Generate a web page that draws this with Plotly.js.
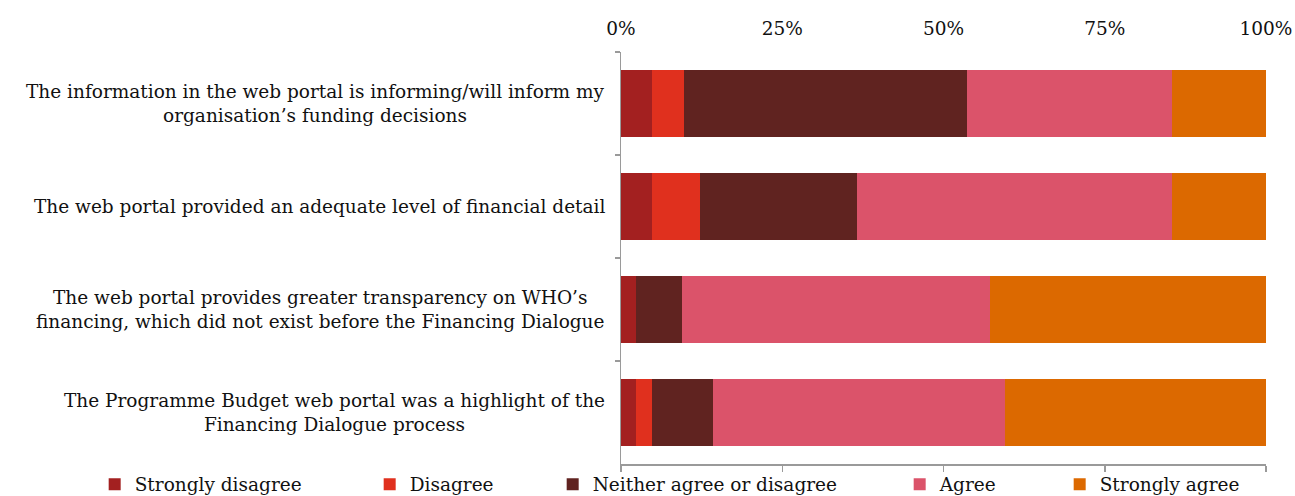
<!DOCTYPE html>
<html>
<head>
<meta charset="utf-8">
<script src="https://cdn.plot.ly/plotly-3.0.1.min.js"></script>
<style>html,body{margin:0;padding:0;background:#fff;}#chart{width:1295px;height:496px;}</style>
</head>
<body>
<div id="chart"></div>
<script>
// ---- data ----
const categories = [
  "The information in the web portal is informing/will inform my<br>organisation’s funding decisions",
  "The web portal provided an adequate level of financial detail",
  "The web portal provides greater transparency on WHO’s<br>financing, which did not exist before the Financing Dialogue",
  "The Programme Budget web portal was a highlight of the<br>Financing Dialogue process"
];
const seriesNames = ["Strongly disagree", "Disagree", "Neither agree or disagree", "Agree", "Strongly agree"];
const stronglyDisagree = [0.0488, 0.0488, 0.0238, 0.0238];
const disagree         = [0.0488, 0.0732, 0.0000, 0.0238];
const neither          = [0.4390, 0.2439, 0.0714, 0.0952];
const agree            = [0.3171, 0.4878, 0.4762, 0.4524];
const stronglyAgree    = [0.1463, 0.1463, 0.4286, 0.4048];
const xTickVals = [0, 0.25, 0.5, 0.75, 1];
const xTickText = ["0%", "25%", "50%", "75%", "100%"];

// ---- styles ----
const colors = ["#A32020", "#E0301E", "#602320", "#DB536A", "#DC6900"];
const legendWidths = [230, 138, 302, 115, 170];
const FONT = "DejaVu Serif";
const FS = 18.5;

const seriesValues = [stronglyDisagree, disagree, neither, agree, stronglyAgree];
const traces = seriesValues.map((vals, i) => ({
  type: "bar",
  orientation: "h",
  name: seriesNames[i],
  y: categories,
  x: vals,
  xaxis: "x",
  marker: {color: colors[i], line: {width: 0}},
  legendwidth: legendWidths[i],
  hoverinfo: "x+name"
}));
// empty helper trace so the top (label) axis is drawn
traces.push({type: "scatter", mode: "none", x: [], y: [], xaxis: "x2", yaxis: "y",
  showlegend: false, hoverinfo: "skip"});

const annotations = categories.map(c => ({
  xref: "paper", yref: "y", x: 0, y: c,
  xanchor: "right", yanchor: "middle", xshift: -14,
  text: c, showarrow: false, align: "center",
  font: {family: FONT, size: FS, color: "#111"}
}));

const layout = {
  width: 1295, height: 496,
  margin: {l: 621, r: 29, t: 52, b: 32, autoexpand: false},
  paper_bgcolor: "#fff", plot_bgcolor: "#fff",
  barmode: "stack", bargap: 0.34,
  font: {family: FONT, size: FS, color: "#111"},
  xaxis: {
    side: "bottom", range: [0, 1], tickvals: xTickVals,
    showticklabels: false, showgrid: false, zeroline: false,
    showline: true, linecolor: "#9a9a9a", linewidth: 1.5,
    ticks: "outside", ticklen: 6, tickcolor: "#9a9a9a", tickwidth: 1.5
  },
  xaxis2: {
    overlaying: "x", anchor: "y", side: "top", range: [0, 1],
    tickvals: xTickVals, ticktext: xTickText,
    showgrid: false, zeroline: false, showline: false, ticks: "",
    ticklabelstandoff: 12,
    tickfont: {family: FONT, size: FS, color: "#111"}
  },
  yaxis: {
    type: "category", autorange: "reversed", showticklabels: false,
    tickson: "boundaries", ticks: "outside", ticklen: 5, tickcolor: "#9a9a9a", tickwidth: 1.5,
    showline: true, linecolor: "#9a9a9a", linewidth: 1.5, showgrid: false, zeroline: false
  },
  showlegend: true,
  legend: {
    orientation: "h", x: -0.816, xanchor: "left", y: -0.004, yanchor: "top",
    traceorder: "normal", font: {family: FONT, size: FS, color: "#111"},
    itemwidth: 30, bgcolor: "rgba(0,0,0,0)", tracegroupgap: 0
  },
  annotations: annotations
};

Plotly.newPlot("chart", traces, layout, {displayModeBar: false, staticPlot: true});
</script>
</body>
</html>
